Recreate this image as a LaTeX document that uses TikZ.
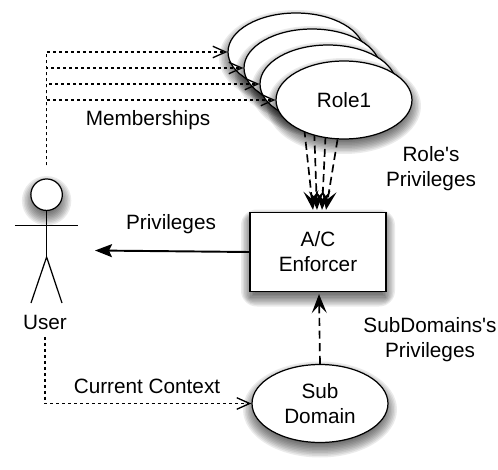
\documentclass[tikz,border=0pt]{standalone}
\usepackage{fontspec}
\setmainfont{Liberation Sans}
\usetikzlibrary{positioning,arrows.meta,calc,backgrounds,shapes.geometric}

\newcommand{\softoval}[4]{\foreach \g in {-6,-4.5,...,9}
  \fill[haze] (#1,#2+6) ellipse ({#3+\g} and {#4+\g});}
\newcommand{\softbox}[4]{\foreach \g in {-6,-4.5,...,9}
  \fill[haze, rounded corners={max(\g,0)*1pt}] ({#1-#3-\g},{#2-#4-\g+6}) rectangle ({#1+#3+\g},{#2+#4+\g+6});}

\begin{document}
\begin{tikzpicture}[x=0.02cm,y=-0.02cm,line width=0.7pt,
  font=\fontsize{11.8}{14.2}\selectfont,
  haze/.style={black, opacity=0.08},
  rolenode/.style={ellipse, draw, fill=white, align=center, inner sep=0pt, minimum width=2.72cm, minimum height=1.56cm},
  boxnode/.style={rectangle, draw, fill=white, align=center, inner sep=0pt, minimum width=2.72cm, minimum height=1.58cm},
  lbl/.style={align=center, inner sep=0pt},
  member/.style={line width=0.75pt, dash pattern=on 1.7pt off 1.7pt, -{Straight Barb[length=2.6mm,width=2.3mm]}},
  grant/.style={line width=0.95pt, dash pattern=on 4.6pt off 2.6pt, -{Stealth[length=3.8mm,width=3mm,inset=1.6mm]}}]

\useasboundingbox (0,0) rectangle (498,470);

\softoval{296}{52}{68}{39}
\node[rolenode] (role4) at (296,52) {};
\softoval{312}{68}{68}{39}
\node[rolenode] (role3) at (312,68) {};
\softoval{328}{84}{68}{39}
\node[rolenode] (role2) at (328,84) {};
\softoval{344}{100}{68}{39}
\node[rolenode] (role1) at (344,100) {Role1};

\softbox{318}{252}{68}{39.5}
\node[boxnode] (enforcer) at (318,252) {A/C\\Enforcer};
\softoval{320}{403.5}{68}{39}
\node[rolenode] (subdomain) at (320,403.5) {Sub\\Domain};

\softoval{46.6}{194.7}{15.7}{15.7}
\node[circle, draw, fill=white, inner sep=0pt, minimum size=0.63cm] (head) at (46.6,194.7) {};
\coordinate (hip) at (46.6,257);
\coordinate (armL) at (15,225.5);
\coordinate (armR) at (78,225.5);
\coordinate (footL) at (31,303);
\coordinate (footR) at (62,303);
\draw (head.south) -- (hip);
\draw (armL) -- (armR);
\draw (footL) -- (hip) -- (footR);
\node[lbl] (user) at (45,322) {User};

\coordinate (userTop) at (46.6,165);
\coordinate (userBottom) at (45,337);
\coordinate (userFront) at (95,250.5);
\draw[member] (userTop) |- (role4.west);
\draw[member] (userTop) |- (role3.west);
\draw[member] (userTop) |- (role2.west);
\draw[member] (userTop) |- (role1.west);
\draw[member] (userBottom) |- (subdomain.west);

\begin{scope}[on background layer]
\draw[grant] (role4) -- ($(enforcer.north)+(-5,-2)$);
\draw[grant] (role3) -- ($(enforcer.north)+(-1,-2)$);
\draw[grant] (role2) -- ($(enforcer.north)+(4,-2)$);
\draw[grant] (role1) -- ($(enforcer.north)+(8,-2)$);
\end{scope}

\draw[-{Stealth[length=3.4mm,width=2.6mm,inset=0.6mm]}, line width=1.1pt] (enforcer.west) -- (userFront);
\draw[grant] (subdomain.north) -- ($(enforcer.south)+(1,2)$);

\node[lbl] (memberships) at (148,120) {Memberships};
\node[lbl] (privileges) at (171,224) {Privileges};
\node[lbl] (context) at (147,386) {Current Context};
\node[lbl] (rolepriv) at (431,169) {Role\textquotesingle s\\Privileges};
\node[lbl] (subpriv) at (430,340) {SubDomains\textquotesingle s\\Privileges};
\end{tikzpicture}
\end{document}
